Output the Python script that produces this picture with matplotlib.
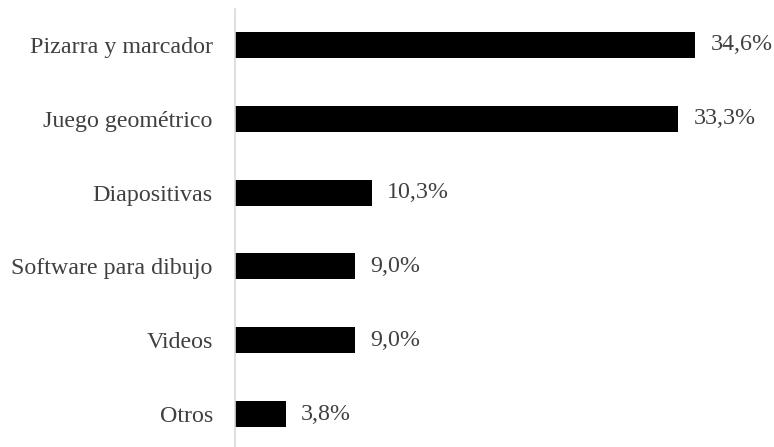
import matplotlib
matplotlib.use("Agg")
import matplotlib.pyplot as plt

categorias = ["Pizarra y marcador", "Juego geométrico", "Diapositivas",
              "Software para dibujo", "Videos", "Otros"]
porcentajes = [34.6, 33.3, 10.3, 9.0, 9.0, 3.8]
etiquetas = ["34,6%", "33,3%", "10,3%", "9,0%", "9,0%", "3,8%"]

plt.rcParams["font.family"] = ["Liberation Serif", "DejaVu Serif"]
gris = "#404040"
tam = 17.3

fig = plt.figure(figsize=(7.74, 4.47), dpi=100)
ax = fig.add_axes([0.3036, 0.0, 0.6964, 0.98])

pos = list(range(len(categorias)))
ax.barh(pos, porcentajes, height=0.352, color="black")

for y, v, t in zip(pos, porcentajes, etiquetas):
    ax.annotate(t, (v, y), xytext=(11, 0), textcoords="offset points",
                va="center", ha="left", fontsize=tam, color=gris)

ax.set_yticks(pos)
ax.set_yticklabels(categorias, fontsize=tam, color=gris)
ax.tick_params(axis="y", length=0, pad=16)
ax.set_xticks([])
ax.set_xlim(0, 40.5)
ax.set_ylim(5.447, -0.488)

for s in ["top", "right", "bottom"]:
    ax.spines[s].set_visible(False)
ax.spines["left"].set_color("#d9d9d9")
ax.spines["left"].set_linewidth(1.2)

fig.savefig("out.png", dpi=100)
